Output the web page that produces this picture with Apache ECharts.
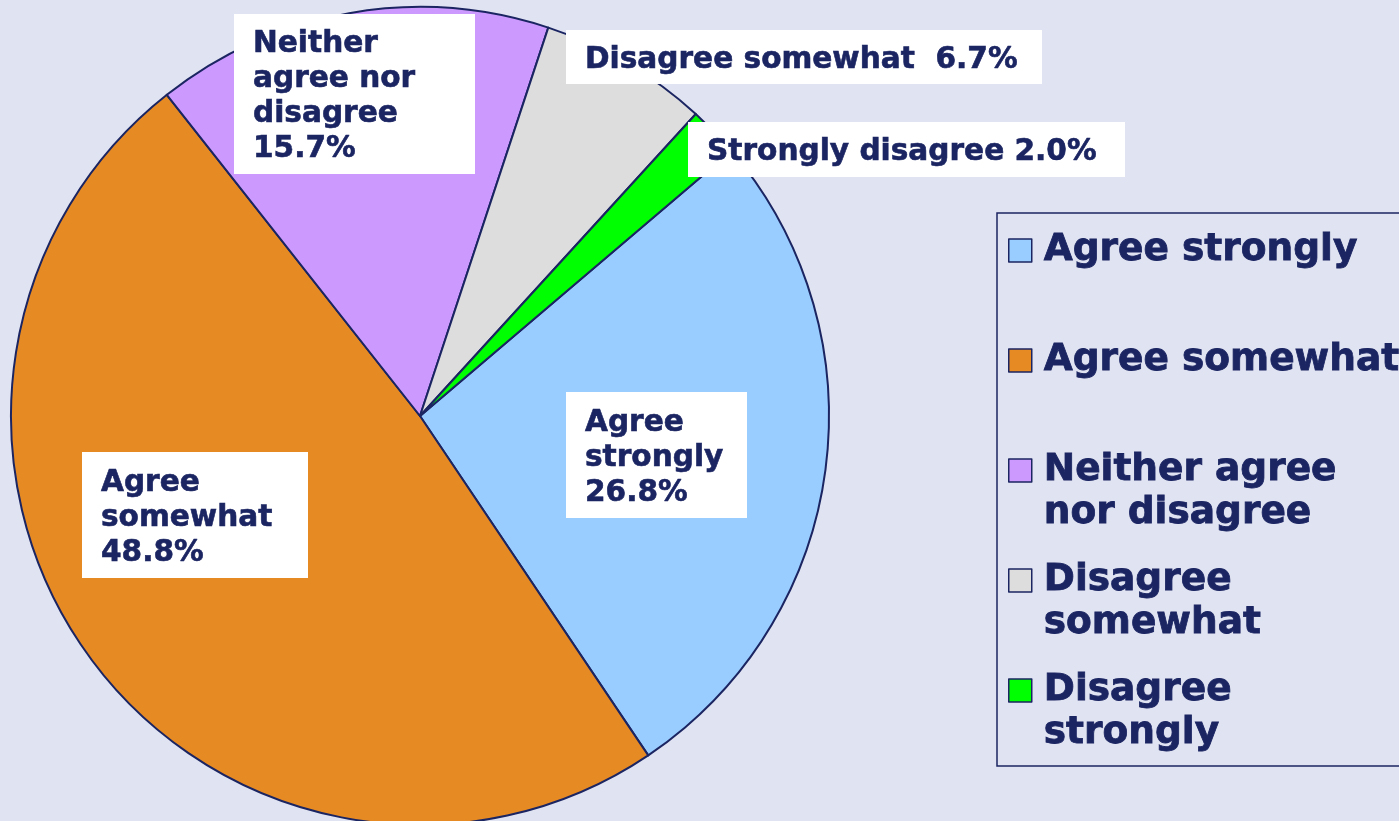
<!DOCTYPE html>
<html>
<head>
<meta charset="utf-8">
<script src="https://cdn.jsdelivr.net/npm/echarts@6/dist/echarts.min.js"></script>
<style>
  html, body { margin: 0; padding: 0; background: #E0E3F1; }
  #chart { width: 1399px; height: 821px; }
</style>
</head>
<body>
<div id="chart"></div>
<script>
// 数据
const categories = ['Agree strongly', 'Agree somewhat', 'Neither agree nor disagree', 'Disagree somewhat', 'Disagree strongly'];
const values = [26.8, 48.8, 15.7, 6.7, 2.0];
// 扇区标签（值前面的文字）
const labelTexts = ['Agree\nstrongly\n', 'Agree\nsomewhat\n', 'Neither\nagree nor\ndisagree\n', 'Disagree somewhat  ', 'Strongly disagree '];
// 图例文字
const legendTexts = ['Agree strongly', 'Agree somewhat', 'Neither agree\nnor disagree', 'Disagree\nsomewhat', 'Disagree\nstrongly'];
const colors = ['#99CCFF', '#E68A24', '#CC99FF', '#DDDDDD', '#00FF00'];

// 标签白框的位置和大小
const labelBoxes = [
  { x: 566, y: 392, w: 182, h: 126 },
  { x: 82, y: 452, w: 227, h: 126 },
  { x: 234, y: 14, w: 242, h: 160 },
  { x: 566, y: 30, w: 477, h: 54 },
  { x: 688, y: 122, w: 438, h: 55 }
];

const NAVY = '#1B2562';
const LINE_H = 35;

const chart = echarts.init(document.getElementById('chart'));

const pieData = values.map(function (v, i) {
  const lines = labelTexts[i].split('\n').length;
  const pad = (labelBoxes[i].h - lines * LINE_H) / 2;
  return {
    value: v,
    name: categories[i],
    itemStyle: { color: colors[i] },
    label: {
      width: labelBoxes[i].w - 20,
      padding: [pad + 3, 0, pad - 3, 19]
    }
  };
});

const option = {
  backgroundColor: '#E0E3F1',
  animation: false,
  legend: {
    orient: 'vertical',
    left: 997,
    top: 213,
    padding: [-27, 40, 11, 11],
    itemGap: -19,
    itemWidth: 23,
    itemHeight: 23,
    icon: 'rect',
    selectedMode: false,
    borderColor: NAVY,
    borderWidth: 1.5,
    backgroundColor: '#E0E3F1',
    itemStyle: { borderColor: NAVY, borderWidth: 1.5 },
    textStyle: {
      color: NAVY,
      fontFamily: 'DejaVu Sans',
      fontWeight: 'bold',
      fontSize: 37.5,
      lineHeight: 43,
      textBorderColor: NAVY,
      textBorderWidth: 0.8,
      padding: [0, 0, 0, 7]
    },
    formatter: function (name) {
      const t = legendTexts[categories.indexOf(name)];
      // 让图标对齐第一行
      return t.indexOf('\n') >= 0 ? '\n' + t : '\n' + t + '\n';
    },
    data: categories
  },
  series: [
    {
      type: 'pie',
      center: [420, 416],
      radius: 409,
      startAngle: 40.4,
      clockwise: true,
      avoidLabelOverlap: false,
      itemStyle: { borderColor: NAVY, borderWidth: 2 },
      label: {
        show: true,
        position: 'inside',
        color: NAVY,
        fontFamily: 'DejaVu Sans',
        fontWeight: 'bold',
        fontSize: 29.6,
        lineHeight: LINE_H,
        align: 'left',
        textBorderColor: NAVY,
        textBorderWidth: 0.6,
        backgroundColor: '#FFFFFF',
        formatter: function (p) {
          return labelTexts[p.dataIndex] + p.value.toFixed(1) + '%';
        }
      },
      labelLine: { show: false },
      labelLayout: function (p) {
        const b = labelBoxes[p.dataIndex];
        return { x: b.x, y: b.y, align: 'left', verticalAlign: 'top' };
      },
      emphasis: { disabled: true },
      data: pieData
    }
  ]
};

chart.setOption(option);
</script>
</body>
</html>
